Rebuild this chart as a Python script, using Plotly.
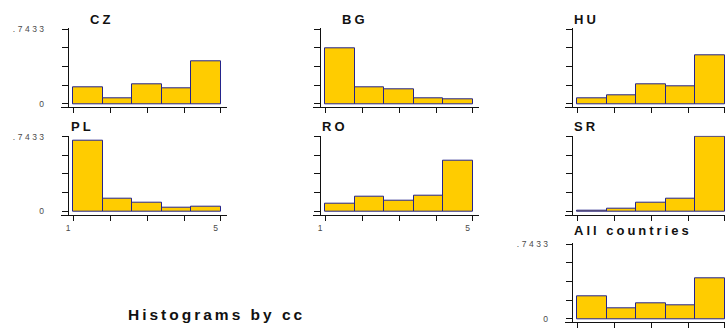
import plotly.graph_objects as go

# ---------------- data ----------------
panel_names = ["CZ", "BG", "HU", "PL", "RO", "SR", "All countries"]
bin_edges = [1, 1.8, 2.6, 3.4, 4.2, 5]
cz = [0.165, 0.056, 0.195, 0.155, 0.420]
bg = [0.552, 0.165, 0.149, 0.053, 0.046]
hu = [0.053, 0.083, 0.192, 0.172, 0.479]
pl = [0.700, 0.124, 0.087, 0.034, 0.040]
ro = [0.074, 0.145, 0.104, 0.158, 0.502]
sr = [0.007, 0.027, 0.087, 0.121, 0.7433]
all_countries = [0.224, 0.100, 0.151, 0.131, 0.402]
y_max = 0.7433
y_tick_labels = [".7433", "0"]
x_tick_labels = ["1", "5"]
note_text = "Histograms by cc"

series = [cz, bg, hu, pl, ro, sr, all_countries]

# ---------------- layout geometry (pixels) ----------------
W, H = 725, 328
col_axis_px = [68.3, 320.3, 572.3]
row_top_px = [29.3, 136.7, 244.3]
unit_px = 36.9          # px per x unit
span_px = 74.5          # px from 0 to y_max
panel_w = 159
cells = [(0, 0), (0, 1), (0, 2), (1, 0), (1, 1), (1, 2), (2, 2)]
title_x_px = [88, 340, 572, 69, 320, 572, 572]
title_y_px = [19.5, 19.5, 19.5, 126.3, 126.3, 126.3, 230.8]
ylabel_panels = {0, 3, 6}
xlabel_panels = {3, 4}   # the third column's labels fall below the picture edge

bar_fill = "#FFCC00"
bar_line = "#24248c"
tick_font = dict(family="Liberation Sans, Arial", size=8.5, color="#4a4a4a")

centers = [(bin_edges[i] + bin_edges[i + 1]) / 2 for i in range(len(bin_edges) - 1)]
widths = [bin_edges[i + 1] - bin_edges[i] for i in range(len(bin_edges) - 1)]

fig = go.Figure()
layout = {}
annotations = []
per_px = y_max / span_px
y_tickvals = [y_max * k / 4 for k in range(5)]
y_ticktext = [y_tick_labels[1], "", "", "", y_tick_labels[0]]
x_tickvals = [1, 2, 3, 4, 5]
x_ticktext = [x_tick_labels[0], "", "", "", x_tick_labels[1]]

for i, (name, vals) in enumerate(zip(panel_names, series)):
    r, c = cells[i]
    n = i + 1
    ax_px = col_axis_px[c]
    T = row_top_px[r]
    Z = T + span_px
    left_px = ax_px - 7.3
    right_px = min(ax_px + panel_w, W)
    x_left = 1 - (ax_px - left_px + 5) / unit_px
    x_right = 1 + (right_px - ax_px - 5) / unit_px

    fig.add_trace(go.Bar(
        x=centers, y=vals, width=widths,
        marker=dict(color=bar_fill, line=dict(color=bar_line, width=1)),
        xaxis=f"x{n}", yaxis=f"y{n}", showlegend=False, name=name,
        hovertemplate=name + ": %{y}<extra></extra>",
    ))

    layout[f"xaxis{n}"] = dict(
        domain=[left_px / W, right_px / W], anchor=f"y{n}",
        range=[x_left, x_right], showgrid=False, zeroline=False,
        showline=True, linecolor="#111", linewidth=1,
        ticks="outside", ticklen=5, tickwidth=1, tickcolor="#111",
        tickvals=x_tickvals, ticktext=x_ticktext,
        showticklabels=(i in xlabel_panels), tickfont=tick_font,
        ticklabelshift=-4, automargin=False, fixedrange=True,
    )
    layout[f"yaxis{n}"] = dict(
        domain=[1 - (Z + 3.3) / H, 1 - (T - 1) / H], anchor="free",
        position=ax_px / W, range=[-3.3 * per_px, y_max + 1 * per_px],
        showgrid=False, zeroline=False, showline=True, linecolor="#111",
        linewidth=1, ticks="outside", ticklen=6, tickwidth=1, tickcolor="#111",
        tickvals=y_tickvals, ticktext=y_ticktext,
        showticklabels=(i in ylabel_panels), tickfont=tick_font,
        ticklabelstandoff=14, automargin=False, fixedrange=True,
    )
    annotations.append(dict(
        text=name, xref="paper", yref="paper", x=title_x_px[i] / W,
        y=1 - title_y_px[i] / H, xanchor="left", yanchor="middle", align="left",
        showarrow=False,
        font=dict(family="Liberation Sans, Arial", size=13, color="#111", weight="bold"),
    ))

annotations.append(dict(
    text=note_text, xref="paper", yref="paper", x=126 / W, y=1 - 314.5 / H,
    xanchor="left", yanchor="middle", align="left", showarrow=False,
    font=dict(family="Liberation Sans, Arial", size=15.5, color="#111", weight="bold"),
))

fig.update_layout(
    width=W, height=H, autosize=False,
    margin=dict(l=0, r=0, t=0, b=0, pad=0, autoexpand=False),
    paper_bgcolor="white", plot_bgcolor="white",
    bargap=0, annotations=annotations, **layout,
)

post = """
var s=document.createElement('style');
s.textContent='html,body{margin:0;padding:0;overflow:hidden} .annotation-text{letter-spacing:3px} .xaxislayer-above text,.yaxislayer-above text{letter-spacing:2.5px}';
document.head.appendChild(s);
"""
fig.write_html("out.html", post_script=post, config={"displayModeBar": False})
